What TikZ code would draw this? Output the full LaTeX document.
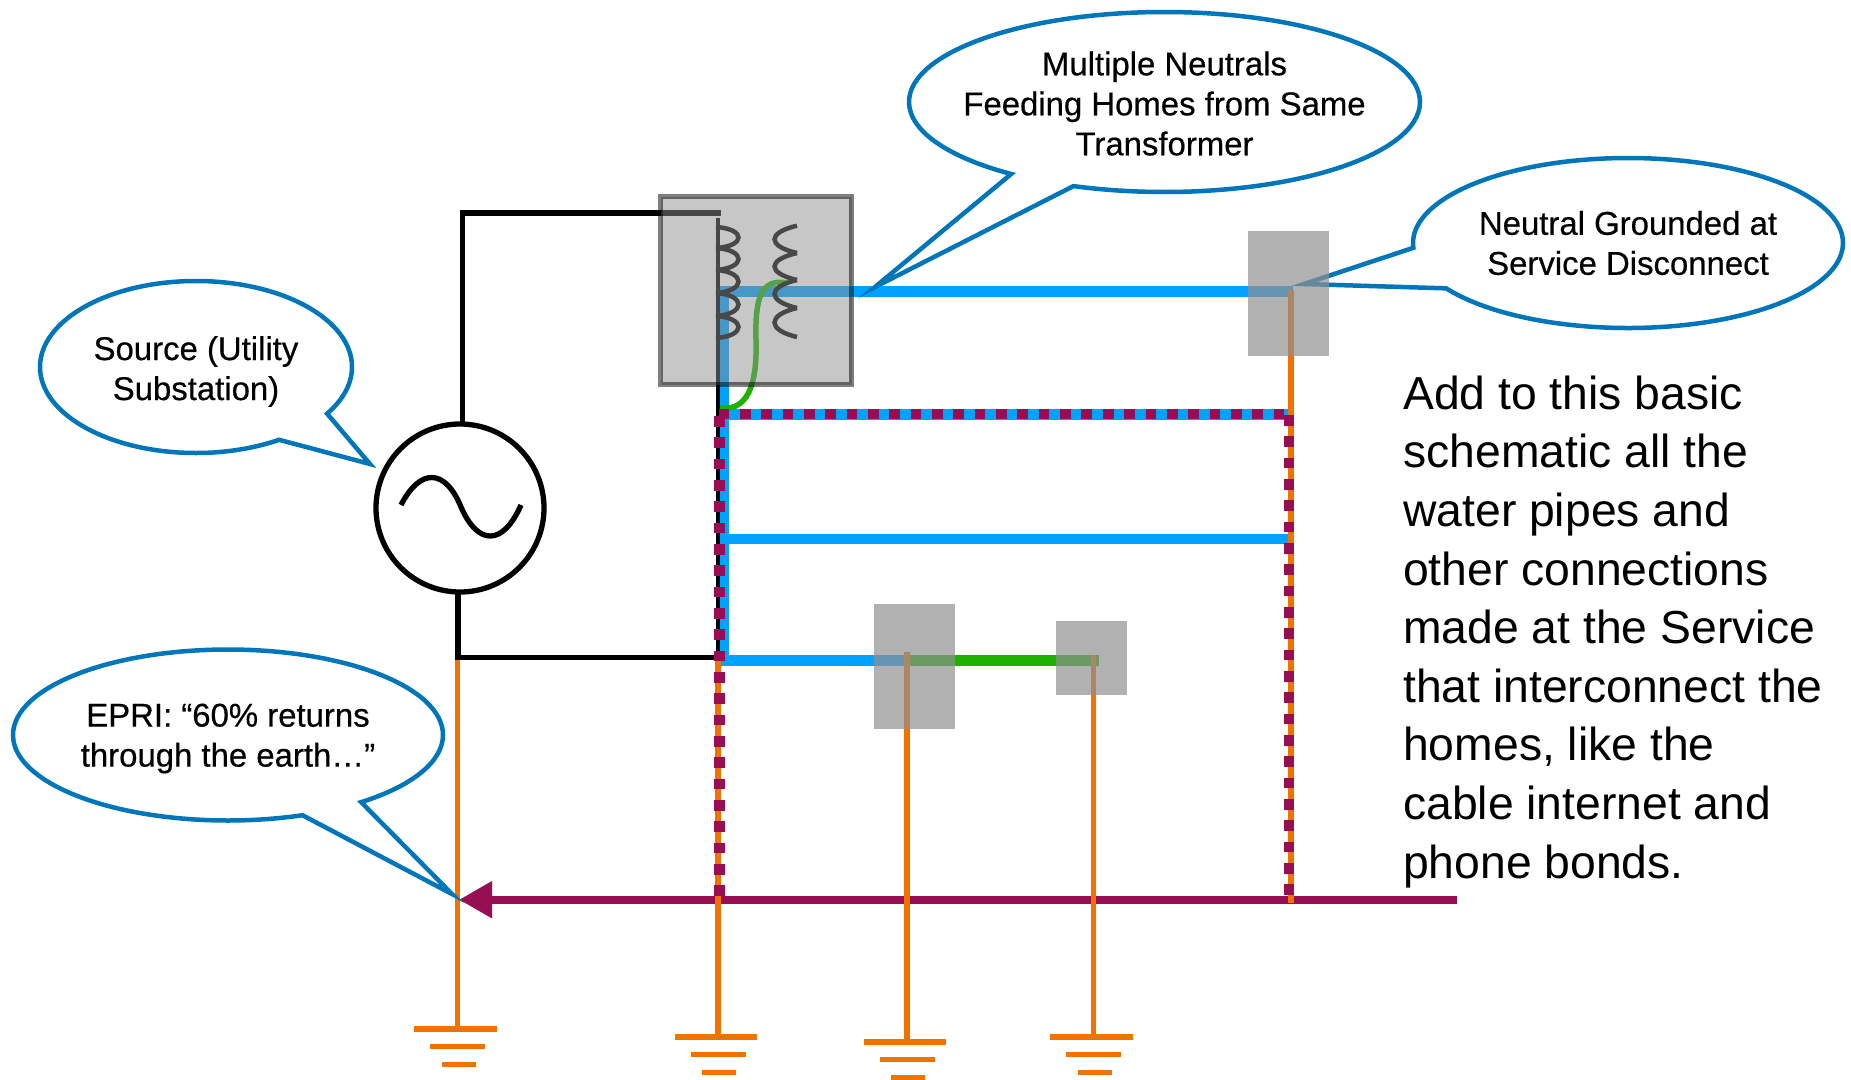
\documentclass[tikz,border=0pt]{standalone}
\usepackage{fontspec}
\setmainfont{Liberation Sans}
\newfontfamily\bubblefont[FakeBold=0.5]{Liberation Sans}
\usetikzlibrary{shapes.callouts,arrows.meta}
\definecolor{wireblue}{HTML}{00A2FF}
\definecolor{wiregreen}{HTML}{1DB100}
\definecolor{wireorange}{HTML}{F27200}
\definecolor{returnplum}{HTML}{970E53}
\definecolor{bubbleblue}{HTML}{0076BA}
\definecolor{boxgray}{HTML}{909090}
\tikzset{
	bubble/.style={ellipse callout,draw=bubbleblue,line width=4.5pt,fill=white,inner sep=0pt,outer sep=0pt},
	bubbletext/.style={align=center,inner sep=0pt,font=\bubblefont\fontsize{32.9}{40}\selectfont},
	panel/.style={fill=boxgray,fill opacity=0.7,inner sep=0pt,outer sep=0pt},
	blueline/.style={wireblue,line width=#1},
	orangeline/.style={wireorange,line width=5.3pt},
	blackline/.style={black,line width=5.3pt},
	plumdots/.style={returnplum,line width=10.7pt,dash pattern=on 10.67pt off 10.67pt}
}
\begin{document}
\begin{tikzpicture}[x=1pt,y=-1pt]
			\useasboundingbox (0,0) rectangle (1851,1079);
			\coordinate (bT) at (723,291);
			\coordinate (bE) at (1293,291);
			\coordinate (bB) at (723,660);
			\coordinate (bF) at (907,660);
			\coordinate (bG) at (1099,660);
			\coordinate (rL) at (459,899.7);
			\coordinate (rR) at (1457,899.7);
			\coordinate (dL) at (719.3,896);
			\coordinate (dC) at (719.3,414);
			\coordinate (dT) at (718.7,414);
			\coordinate (dU) at (1284,414);
			\coordinate (dR) at (1289,415);
			\coordinate (dD) at (1289,896);
			% mains side
			\node (src) [circle,draw,line width=5.3pt,fill=white,minimum size=168pt,inner sep=0pt,outer sep=0pt] at (460,508) {};
			\draw[line width=5.3pt] (401,505) .. controls (420,468) and (445,468) .. (461,507) .. controls (478,546) and (503,546) .. (521,505);
			% neutrals
			\draw[blueline=11pt] (717,291) -- (bE);
			\draw[blueline=12pt] (bT) -- (bB);
			\draw[blueline=11pt] (720,660) -- (bF);
			\draw[wiregreen,line width=11pt] (bF) -- (bG);
			\draw[blueline=10pt] (723,538.5) -- (1290,538.5);
			\draw[blueline=11pt] (723,414) -- (1290,414);
			\draw[wiregreen,line width=5.5pt] (787,283) .. controls (760,278) and (755,300) .. (756,340) .. controls (757,375) and (752,412) .. (720,408);
			% return path
			\draw[{Triangle[length=33pt,width=35pt]}-,returnplum,line width=8pt] (rL) -- (rR);
			\draw[orangeline] (1291,290) -- (1291,903);
			\foreach \gx/\gtop/\gy in {457.7/657/1029,718/657/1037,907/652/1042,1093.7/655/1037}{
				\draw[orangeline] (\gx,\gtop) -- (\gx,\gy);
				\draw[orangeline] (\gx-43.5,\gy) -- (\gx+39,\gy);
				\draw[orangeline] (\gx-27.5,\gy+17.5) -- (\gx+27.5,\gy+17.5);
				\draw[orangeline] (\gx-16,\gy+35.5) -- (\gx+18,\gy+35.5);
			}
			% phase wires
			\draw[blackline] (462.5,423) -- (462.5,213) -- (720.7,213);
			\draw[blackline] (458,592) -- (458,657.7) -- (717,657.7);
			\draw[black,line width=4.5pt] (718,218) -- (718,660);
			\draw[plumdots] (dL) -- (dC);
			\draw[plumdots] (dT) -- (dU);
			\draw[plumdots] (dR) -- (dD);
			% windings
			\foreach \ya/\yb in {227/248,248/270,270/293,293/316,316/338}{
				\draw[black,line width=4.5pt] (716,\ya) .. controls (746,\ya+2) and (746,\yb-2) .. (716,\yb);
			}
			\foreach \ya/\yb in {225.7/253,253/280,280/308,308/337}{
				\draw[black,line width=4.5pt] (797,\ya) .. controls (767,\ya+7) and (767,\yb-7) .. (797,\yb);
			}
			% callouts
			\node (multi) [bubble,minimum width=511pt,minimum height=180pt,callout pointer arc=16,callout absolute pointer={(875,287)}] at (1164.5,102) {};
			\node (multiT) [bubbletext] at (1164.5,103.5) {Multiple Neutrals\\Feeding Homes from Same\\Transformer};
			\node (disc) [bubble,minimum width=430pt,minimum height=170pt,callout pointer arc=29,callout absolute pointer={(1304,284)}] at (1628,243) {};
			\node (discT) [bubbletext] at (1628,243) {Neutral Grounded at\\Service Disconnect};
			\node (util) [bubble,minimum width=312pt,minimum height=172pt,callout pointer arc=25,callout absolute pointer={(370,464)}] at (196,367) {};
			\node (utilT) [bubbletext] at (196,371.5) {Source (Utility\\Substation)};
			\node (epri) [bubble,minimum width=430pt,minimum height=171pt,callout pointer arc=18,callout absolute pointer={(452,894)}] at (228,735) {};
			\node (epriT) [bubbletext] at (228,738.5) {EPRI: “60\% returns\\through the earth…”};
			% enclosures
			\node (xfmr) [draw=black,draw opacity=0.5,line width=5pt,fill=boxgray,fill opacity=0.5,minimum width=191pt,minimum height=188pt,inner sep=0pt,outer sep=0pt] at (756,290.5) {};
			\node (svc) [panel,minimum width=81pt,minimum height=124.7pt] at (1288.5,293.3) {};
			\node (homeA) [panel,minimum width=81pt,minimum height=124.7pt] at (914.5,666.3) {};
			\node (homeB) [panel,minimum width=71pt,minimum height=74pt] at (1091.5,658) {};
			\node (note) [anchor=north west,align=left,inner sep=0pt,font=\fontsize{46.3}{58.6}\selectfont] at (1403,375.5) {Add to this basic\\schematic all the\\water pipes and\\other connections\\made at the Service\\that interconnect the\\homes, like the\\cable internet and\\phone bonds.};
		\end{tikzpicture}
\end{document}
